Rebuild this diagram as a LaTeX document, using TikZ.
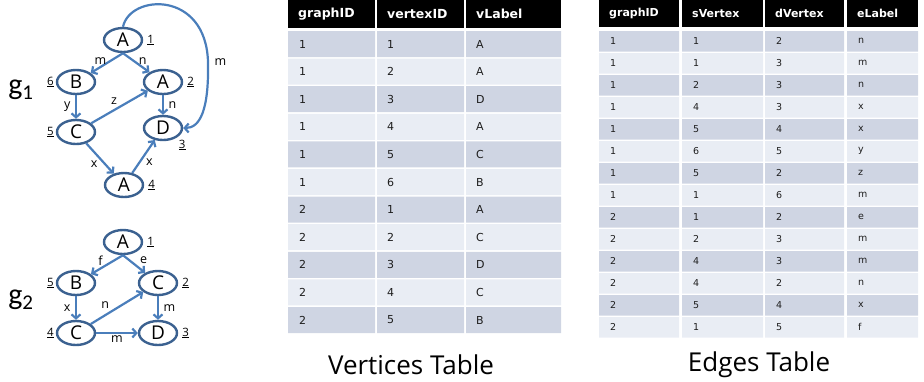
\documentclass[tikz,border=0pt]{standalone}
\usepackage{fontspec}
\setmainfont{Open Sans}
\newfontfamily\tablefont{DejaVu Sans}
\newfontfamily\glabelfont{Carlito}
\usetikzlibrary{arrows.meta, shapes.geometric}
\definecolor{cnode}{HTML}{3B6190}
\definecolor{cedge}{HTML}{4A7EBB}
\definecolor{crowdark}{HTML}{CFD5E3}
\definecolor{crowlight}{HTML}{E9EDF4}
\definecolor{ctext}{HTML}{1E1E1E}
\tikzset{
  vert/.style={ellipse, draw=cnode, line width=2.4pt, fill=white, minimum width=38pt, minimum height=24pt, inner sep=0pt, font=\fontsize{19}{19}\selectfont},
  edge/.style={-{Straight Barb[length=4pt, width=9pt]}, draw=cedge, line width=2.2pt},
  elab/.style={font=\fontsize{12.5}{12.5}\selectfont, inner sep=1.5pt},
  vid/.style={font=\fontsize{11.5}{11.5}\selectfont, inner sep=2pt},
  glab/.style={font=\glabelfont\fontsize{30}{30}\selectfont},
  head/.style={font=\tablefont\bfseries\fontsize{12.5}{12.5}\selectfont, text=white, anchor=west, inner sep=0pt},
  cell/.style={font=\tablefont\fontsize{11}{11}\selectfont, text=ctext, anchor=west, inner sep=0pt},
  ehead/.style={head, font=\tablefont\bfseries\fontsize{11}{11}\selectfont},
  ecell/.style={cell, font=\tablefont\fontsize{9.5}{9.5}\selectfont},
  caption/.style={font=\fontsize{26}{26}\selectfont},
}
\begin{document}
\begin{tikzpicture}[x=1pt, y=-1pt]
  \useasboundingbox (0,0) rectangle (924,381);

  % graph g1
  \node[glab] (g1) at (21,90) {g\textsubscript{1}};
  \node[vert, label={[vid, label distance=2pt]right:\underline{1}}] (a1) at (123,40) {A};
  \node[vert, label={[vid]left:\underline{6}}] (b6) at (76,82) {B};
  \node[vert, label={[vid, label distance=2pt]right:\underline{2}}] (a2) at (163,82) {A};
  \node[vert, label={[vid]left:\underline{5}}] (c5) at (76,132) {C};
  \node[vert, label={[vid]-35:\underline{3}}] (d3) at (163,128) {D};
  \node[vert, label={[vid, label distance=2pt]right:\underline{4}}] (a4) at (124,185) {A};
  \draw[edge] (a1.south) -- node[elab, pos=0.7, above] {m} (b6);
  \draw[edge] (a1.south) -- node[elab, pos=0.75, above] {n} (a2);
  \draw[edge] (b6) -- node[elab, left=3pt] {y} (c5);
  \draw[edge] (c5) -- node[elab, above left] {z} (a2);
  \draw[edge] (a2) -- node[elab, right=3pt] {n} (d3);
  \draw[edge] (c5) -- node[elab, below left] {x} (a4);
  \draw[edge] (a4) -- node[elab, below right] {x} (d3);
  \draw[edge] (a1.north) .. controls (130,-6) and (206,-10) .. (208,62)
    node[elab, right=4pt] {m}
    .. controls (209,110) and (200,128) .. (d3.east);

  % graph g2
  \node[glab] (g2) at (21,300) {g\textsubscript{2}};
  \node[vert, label={[vid, label distance=2pt]right:\underline{1}}] (t1) at (123,242) {A};
  \node[vert, label={[vid]left:\underline{5}}] (t5) at (76,283) {B};
  \node[vert, label={[vid, label distance=2pt]right:\underline{2}}] (t2) at (158,283) {C};
  \node[vert, label={[vid]left:\underline{4}}] (t4) at (76,333) {C};
  \node[vert, label={[vid, label distance=2pt]right:\underline{3}}] (t3) at (158,333) {D};
  \draw[edge] (t1.south) -- node[elab, pos=0.7, above] {f} (t5);
  \draw[edge] (t1.south) -- node[elab, pos=0.65, above right=0pt] {e} (t2);
  \draw[edge] (t5) -- node[elab, left=3pt] {x} (t4);
  \draw[edge] (t4) -- node[elab, pos=0.4, above left] {n} (t2);
  \draw[edge] (t2) -- node[elab, right=3pt] {m} (t3);
  \draw[edge] (t4) -- node[elab, below] {m} (t3);

  % vertices table
  \foreach \cx/\ct/\cw [count=\c] in {288/graphID/87, 377/vertexID/87, 466/vLabel/95} {
    \fill (\cx,0) rectangle ++(\cw,28);
    \node[head] (vh\c) at (\cx+10,14) {\ct};
  }
  \foreach \g/\v/\l [count=\i from 0] in {1/1/A, 1/2/A, 1/3/D, 1/4/A, 1/5/C, 1/6/B,
      2/1/A, 2/2/C, 2/3/D, 2/4/C, 2/5/B} {
    \pgfmathsetmacro\ry{31+27.6*\i}
    \ifodd\i \def\rc{crowlight}\else \def\rc{crowdark}\fi
    \fill[\rc] (288,\ry) rectangle ++(87,26) (377,\ry) rectangle ++(87,26)
      (466,\ry) rectangle ++(95,26);
    \node[cell] (v\i g) at (299,\ry+13) {\g};
    \node[cell] (v\i v) at (387,\ry+13) {\v};
    \node[cell] (v\i l) at (476,\ry+13) {\l};
  }
  \node[caption] (vcap) at (411,365) {Vertices Table};

  % edges table
  \foreach \cx/\ct/\cw [count=\c] in {599/graphID/80, 682/sVertex/81, 765/dVertex/79, 847/eLabel/71} {
    \fill (\cx,0) rectangle ++(\cw,27);
    \node[ehead] (eh\c) at (\cx+10,13.5) {\ct};
  }
  \foreach \g/\s/\d/\l [count=\i from 0] in {1/1/2/n, 1/1/3/m, 1/2/3/n, 1/4/3/x, 1/5/4/x,
      1/6/5/y, 1/5/2/z, 1/1/6/m, 2/1/2/e, 2/2/3/m, 2/4/3/m, 2/4/2/n, 2/5/4/x, 2/1/5/f} {
    \pgfmathsetmacro\ry{31+22*\i}
    \ifodd\i \def\rc{crowlight}\else \def\rc{crowdark}\fi
    \fill[\rc] (599,\ry) rectangle ++(80,20.5) (682,\ry) rectangle ++(81,20.5)
      (765,\ry) rectangle ++(79,20.5) (847,\ry) rectangle ++(71,20.5);
    \node[ecell] (e\i g) at (610,\ry+10.25) {\g};
    \node[ecell] (e\i s) at (693,\ry+10.25) {\s};
    \node[ecell] (e\i d) at (776,\ry+10.25) {\d};
    \node[ecell] (e\i l) at (858,\ry+10.25) {\l};
  }
  \node[caption] (ecap) at (759,365) {Edges Table};
\end{tikzpicture}
\end{document}
